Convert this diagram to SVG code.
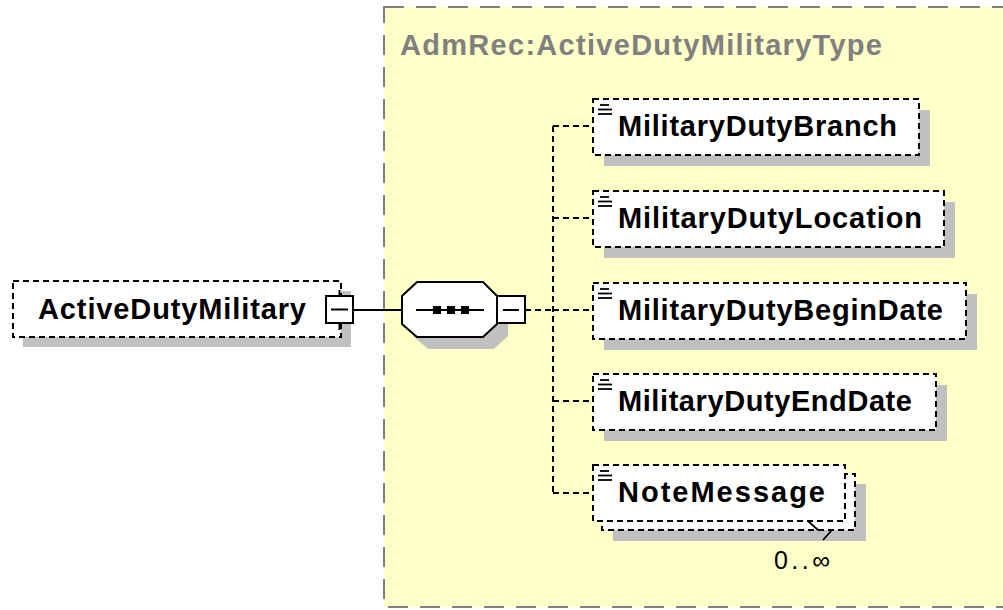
<svg xmlns="http://www.w3.org/2000/svg" width="1003" height="610" viewBox="0 0 1003 610">
<style>
.shadow{fill:#c0c0c0;stroke:none}
.node{fill:#ffffff;stroke:#000;stroke-width:2;stroke-dasharray:6 4}
.lbl{font-family:"Liberation Sans",Arial,sans-serif;font-weight:bold;font-size:29px;fill:#000}
.btn{fill:#fff;stroke:#000;stroke-width:2}
.ln{stroke:#000;stroke-width:2;fill:none}
.dash{stroke:#000;stroke-width:2;fill:none;stroke-dasharray:6 4}
.icon{stroke:#000;stroke-width:1.8}
</style>
<rect width="1003" height="610" fill="#ffffff"/>
<g id="type">
<rect x="384" y="7" width="640" height="600" fill="#ffffc8" stroke="#808080" stroke-width="2" stroke-dasharray="20 12"/>
<text x="400" y="55" class="lbl" style="fill:#808080" textLength="482" lengthAdjust="spacing">AdmRec:ActiveDutyMilitaryType</text>
</g>
<g id="connectors">
<line x1="353" y1="310" x2="402" y2="310" class="ln"/>
<line x1="525" y1="310" x2="553" y2="310" class="dash"/>
<line x1="553" y1="126" x2="553" y2="493" class="dash"/>
<line x1="553" y1="126" x2="593" y2="126" class="dash"/>
<line x1="553" y1="218" x2="593" y2="218" class="dash"/>
<line x1="553" y1="310" x2="593" y2="310" class="dash"/>
<line x1="553" y1="401" x2="593" y2="401" class="dash"/>
<line x1="553" y1="493" x2="593" y2="493" class="dash"/>
</g>
<g id="ActiveDutyMilitary">
<rect x="23" y="291" width="328" height="56" class="shadow"/>
<rect x="13" y="281" width="328" height="56" class="node"/>
<text x="38" y="319" class="lbl" textLength="268" lengthAdjust="spacing">ActiveDutyMilitary</text>
<line x1="339.5" y1="290" x2="339.5" y2="330" class="ln"/>
<rect x="326" y="296" width="27" height="27" class="btn"/>
<line x1="331" y1="309.5" x2="348" y2="309.5" class="ln"/>
</g>
<g id="sequence">
<polygon points="428,294 494,294 508,308 508,336 494,349 428,349 413,336 413,308" class="shadow"/>
<polygon points="417,282 483,282 497,296 497,324 483,337 417,337 402,324 402,296" fill="#fff" stroke="#000" stroke-width="2"/>
<line x1="416" y1="310" x2="484" y2="310" class="ln"/>
<rect x="433" y="306" width="8" height="8" fill="#000"/>
<rect x="447" y="306" width="8" height="8" fill="#000"/>
<rect x="461" y="306" width="8" height="8" fill="#000"/>
<rect x="497" y="296" width="28" height="27" class="btn"/>
<line x1="503" y1="310" x2="519" y2="310" class="ln"/>
</g>
<g id="MilitaryDutyBranch">
<rect x="604" y="110" width="326" height="56" class="shadow"/>
<rect x="593" y="99" width="326" height="56" class="node"/>
<line x1="600" y1="105" x2="609" y2="105" class="icon"/>
<line x1="598" y1="109.5" x2="612" y2="109.5" class="icon"/>
<line x1="598" y1="114" x2="612" y2="114" class="icon"/>
<text x="618" y="136" class="lbl" textLength="279" lengthAdjust="spacing">MilitaryDutyBranch</text>
</g>
<g id="MilitaryDutyLocation">
<rect x="604" y="202" width="351" height="56" class="shadow"/>
<rect x="593" y="191" width="351" height="56" class="node"/>
<line x1="600" y1="197" x2="609" y2="197" class="icon"/>
<line x1="598" y1="201.5" x2="612" y2="201.5" class="icon"/>
<line x1="598" y1="206" x2="612" y2="206" class="icon"/>
<text x="618" y="228" class="lbl" textLength="304" lengthAdjust="spacing">MilitaryDutyLocation</text>
</g>
<g id="MilitaryDutyBeginDate">
<rect x="604" y="294" width="373" height="56" class="shadow"/>
<rect x="593" y="283" width="373" height="56" class="node"/>
<line x1="600" y1="289" x2="609" y2="289" class="icon"/>
<line x1="598" y1="293.5" x2="612" y2="293.5" class="icon"/>
<line x1="598" y1="298" x2="612" y2="298" class="icon"/>
<text x="618" y="320" class="lbl" textLength="325" lengthAdjust="spacing">MilitaryDutyBeginDate</text>
</g>
<g id="MilitaryDutyEndDate">
<rect x="604" y="385" width="343" height="56" class="shadow"/>
<rect x="593" y="374" width="343" height="56" class="node"/>
<line x1="600" y1="380" x2="609" y2="380" class="icon"/>
<line x1="598" y1="384.5" x2="612" y2="384.5" class="icon"/>
<line x1="598" y1="389" x2="612" y2="389" class="icon"/>
<text x="618" y="411" class="lbl" textLength="294" lengthAdjust="spacing">MilitaryDutyEndDate</text>
</g>
<g id="NoteMessage">
<rect x="613" y="484" width="253" height="57" class="shadow"/>
<rect x="602" y="474" width="253" height="56" class="node"/>
<rect x="593" y="465" width="252" height="56" class="node"/>
<line x1="600" y1="471" x2="609" y2="471" class="icon"/>
<line x1="598" y1="475.5" x2="612" y2="475.5" class="icon"/>
<line x1="598" y1="480" x2="612" y2="480" class="icon"/>
<text x="618" y="502" class="lbl" textLength="207" lengthAdjust="spacing">NoteMessage</text>
<path d="M808,521 L818,530 M832,530 L823,540" class="icon"/>
<text x="774" y="569" font-family="Liberation Sans, Arial, sans-serif" font-size="25" fill="#000" textLength="56" lengthAdjust="spacing">0..∞</text>
</g>
</svg>
